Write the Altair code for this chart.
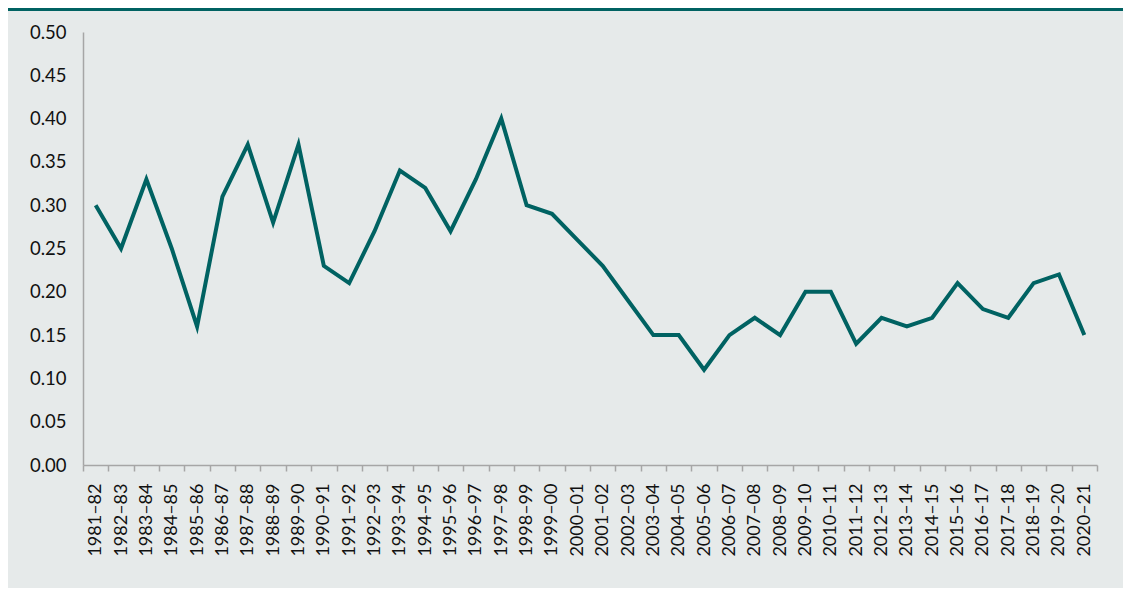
import altair as alt
import pandas as pd

years = ["1981–82","1982–83","1983–84","1984–85","1985–86","1986–87","1987–88","1988–89",
         "1989–90","1990–91","1991–92","1992–93","1993–94","1994–95","1995–96","1996–97",
         "1997–98","1998–99","1999–00","2000–01","2001–02","2002–03","2003–04","2004–05",
         "2005–06","2006–07","2007–08","2008–09","2009–10","2010–11","2011–12","2012–13",
         "2013–14","2014–15","2015–16","2016–17","2017–18","2018–19","2019–20","2020–21"]
values = [0.30,0.25,0.33,0.25,0.16,0.31,0.37,0.28,0.37,0.23,0.21,0.27,0.34,0.32,0.27,0.33,
          0.40,0.30,0.29,0.26,0.23,0.19,0.15,0.15,0.11,0.15,0.17,0.15,0.20,0.20,0.14,0.17,
          0.16,0.17,0.21,0.18,0.17,0.21,0.22,0.15]
y_ticks = [0, 0.05, 0.10, 0.15, 0.20, 0.25, 0.30, 0.35, 0.40, 0.45, 0.50]

df = pd.DataFrame({"year": years, "value": values})

BG = "#e6eaea"
LINE = "#006262"
FONT = "Lato"

W, H = 1014, 433

line = alt.Chart(df).mark_line(color=LINE, strokeWidth=4, strokeJoin="miter").encode(
    x=alt.X("year:O", sort=years, title=None,
            scale=alt.Scale(paddingInner=0, paddingOuter=0),
            axis=alt.Axis(labelAngle=-90, labelAlign="right", labelBaseline="middle",
                          labelFont=FONT, labelFontSize=18, labelColor="#111111",
                          labelPadding=12, tickBand="extent", tickSize=6,
                          tickColor="#a6a6a6", domainColor="#a6a6a6", domainWidth=1.5,
                          tickWidth=1.5, grid=False)),
    y=alt.Y("value:Q", title=None,
            scale=alt.Scale(domain=[0, 0.5], nice=False),
            axis=alt.Axis(values=y_ticks, format=".2f", ticks=False, labelPadding=17,
                          labelFont=FONT, labelFontSize=18.5, labelColor="#111111",
                          domainColor="#a6a6a6", domainWidth=1.5, grid=False)),
)

border = alt.Chart(df).mark_rule(color=LINE, strokeWidth=3, clip=False).encode(
    x=alt.value(-80), x2=alt.value(W + 40), y=alt.value(-23)
)

chart = (border + line).properties(
    width=W, height=H,
    autosize=alt.AutoSizeParams(type="none"),
    padding={"left": 75, "top": 24, "right": 26, "bottom": 123},
    background=BG,
).configure_view(stroke=None)

chart.save("out.html", embed_options={"renderer": "svg", "actions": False})
